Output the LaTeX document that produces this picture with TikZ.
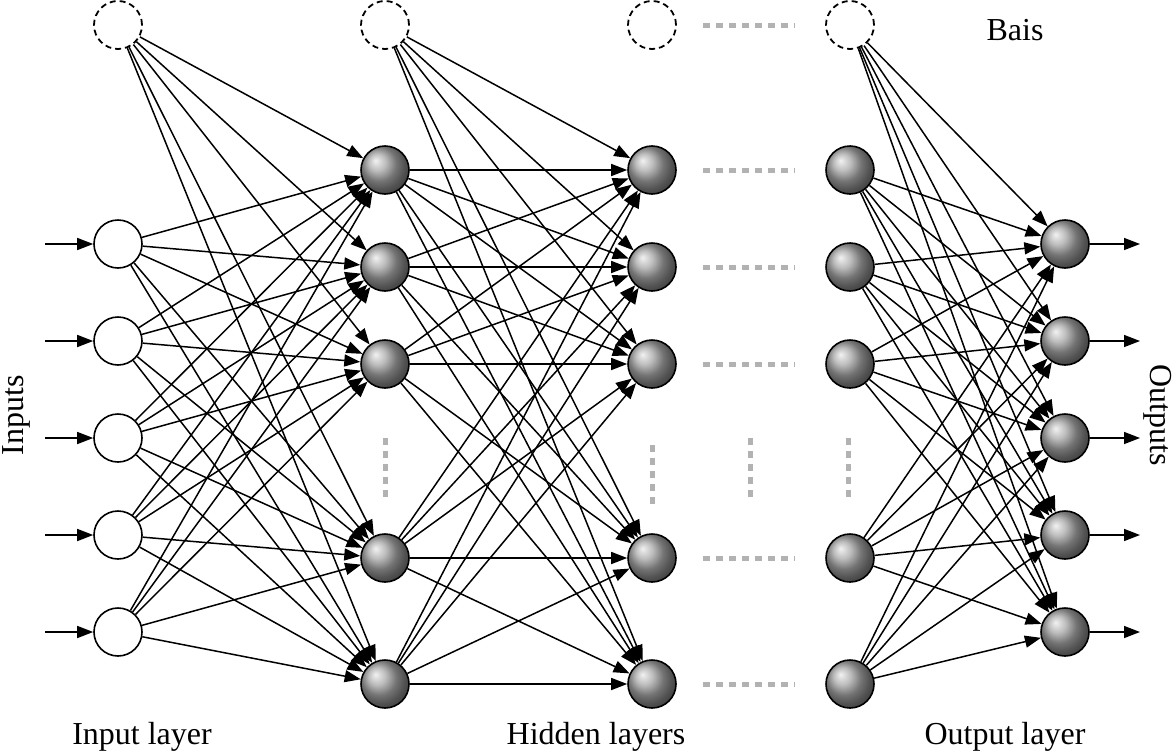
\documentclass[tikz,border=0pt]{standalone}
\usepackage{fontspec}
\setmainfont{Liberation Serif}
\usetikzlibrary{arrows.meta}
\begin{document}
\begin{tikzpicture}[x=1pt,y=-1pt,
  inn/.style={circle,draw,line width=1.6pt,minimum size=48pt,inner sep=0pt,fill=white},
  bias/.style={circle,draw,line width=1.8pt,dash pattern=on 6pt off 4pt,minimum size=48pt,inner sep=0pt},
  hid/.style={circle,draw,line width=1.6pt,minimum size=48pt,inner sep=0pt,shading=ball,ball color=gray!70},
  con/.style={line width=1.5pt,-{Triangle[length=16pt,width=12pt]}},
  dots/.style={gray!60,line width=5pt,dash pattern=on 7pt off 6pt},
  lab/.style={font=\fontsize{32}{34}\selectfont}]
\useasboundingbox (0,0) rectangle (1174,755);
\def\ys{170,267,364,558,684}
\def\yi{244,341,438,535,632}
\node[bias] (b1) at (118,25) {};
\node[bias] (b2) at (385,25) {};
\node[bias] (b3) at (652,25) {};
\node[bias] (b4) at (850,25) {};
\foreach \y [count=\i] in \yi {
  \node[inn] (i\i) at (118,\y) {};
  \node[hid] (o\i) at (1065,\y) {};
  \coordinate (ia\i) at (45,\y);
  \coordinate (oa\i) at (1140,\y);
  \draw[con] (ia\i) -- (i\i);
  \draw[con] (o\i) -- (oa\i);
}
\foreach \y [count=\i] in \ys {
  \node[hid] (a\i) at (385,\y) {};
  \node[hid] (c\i) at (652,\y) {};
  \node[hid] (d\i) at (850,\y) {};
}
\foreach \j in {1,...,5} {
  \draw[con] (b1) -- (a\j);
  \draw[con] (b2) -- (c\j);
  \draw[con] (b4) -- (o\j);
  \foreach \k in {1,...,5} {
    \draw[con] (i\k) -- (a\j);
    \draw[con] (a\k) -- (c\j);
    \draw[con] (d\k) -- (o\j);
  }
}
\coordinate (g1) at (703,25); \coordinate (g2) at (795,25);
\draw[dots] (g1) -- (g2);
\foreach \y [count=\i] in \ys {
  \coordinate (s\i) at (703,\y); \coordinate (t\i) at (795,\y);
  \draw[dots] (s\i) -- (t\i);
}
\foreach \x/\a/\b in {385/438/498,652/445/505,750/438/498,848/438/498} {
  \draw[dots] (\x,\a) -- (\x,\b);
}
\node[lab] (lb) at (1015,30) {Bais};
\node[lab] (l1) at (142,737) {Input layer};
\node[lab] (l2) at (596,737) {Hidden layers};
\node[lab] (l3) at (1005,737) {Output layer};
\node[lab,rotate=90] (lin) at (16,415) {Inputs};
\node[lab,rotate=-90] (lout) at (1158,415) {Outputs};
\end{tikzpicture}
\end{document}
